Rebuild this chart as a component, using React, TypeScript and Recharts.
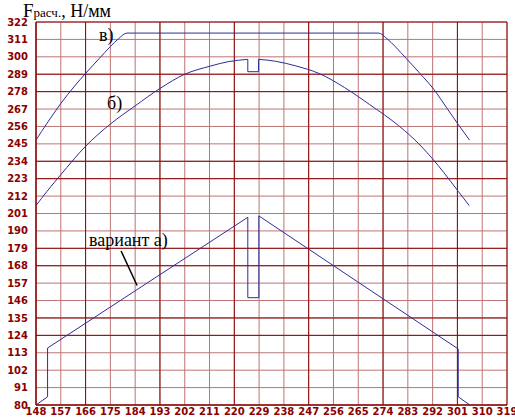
import React from 'react';
import { LineChart, Line, XAxis, YAxis, CartesianGrid, ReferenceLine } from 'recharts';

const xTicks = [148, 157, 166, 175, 184, 193, 202, 211, 220, 229, 238, 247, 256, 265, 274, 283, 292, 301, 310, 319];
const yTicks = [80, 91, 102, 113, 124, 135, 146, 157, 168, 179, 190, 201, 212, 223, 234, 245, 256, 267, 278, 289, 300, 311, 322];
const majorX = [148, 166, 193, 220, 247, 274, 301, 319];
const majorY = [80, 124, 135, 168, 179, 223, 234, 278, 289, 322];

// variant а)
const aX = [148, 152.2, 152.2, 224.9, 224.9, 228.9, 228.9, 301.3, 301.3, 305.5];
const aY = [80, 85.2, 116, 198.6, 147.8, 147.8, 199.5, 115.4, 85.2, 80];

// б)
const bLeftX = [148, 152, 157, 166, 175, 184, 193, 202, 211, 218, 224.9];
const bLeftY = [206, 215, 225.5, 243.5, 257.5, 269, 280, 289, 294, 297, 298.4];
const bNotchX = [224.9, 224.9, 228.8, 228.8];
const bNotchY = [298.4, 290.6, 290.6, 298.4];
const bRightX = [228.8, 235, 242, 251, 260, 269, 280, 287, 292, 296, 301.3, 305.3];
const bRightY = [298.4, 297.2, 294.4, 289.3, 280.6, 270, 256, 245, 235.5, 227, 215, 206];

// в)
const vX = [148, 152, 157, 162, 166, 171, 175, 178, 181, 272.4, 275.4, 278.4, 282.4, 287.4, 292.4, 297.4, 301.4, 305.4];
const vY = [247.4, 258, 270.5, 281.5, 289.5, 299, 306.5, 311.5, 315, 315, 311.5, 306.5, 299, 289.5, 279.5, 267, 257, 247.4];

// leader line for "вариант а)"
const leaderX = [178.9, 184.7];
const leaderY = [177.3, 155.5];

const toPts = (xs: number[], ys: number[]) => xs.map((x, i) => ({ x, y: ys[i] }));

const LINE = '#2d2d9b';
const AXIS_RED = '#8b0000';
const tickStyle = { fill: AXIS_RED, fontSize: 10, fontWeight: 'bold', fontFamily: 'DejaVu Sans' } as any;

export default function App() {
  return (
    <div style={{ position: 'absolute', left: 0, top: 0, width: 515, height: 417, background: '#fff', overflow: 'hidden' }}>
      <LineChart width={515} height={417} margin={{ top: 22, right: 8, bottom: 0, left: 0 }}>
        <CartesianGrid stroke="#bd7474" strokeWidth={1} />
        <CartesianGrid stroke="#8b0a0a" strokeWidth={1} horizontalValues={majorY} verticalValues={majorX} />
        <XAxis
          type="number"
          dataKey="x"
          domain={[148, 319]}
          ticks={xTicks}
          interval={0}
          height={12}
          tickLine={false}
          tickSize={0}
          axisLine={{ stroke: AXIS_RED }}
          tick={tickStyle}
          tickMargin={3}
          allowDataOverflow
        />
        <YAxis
          type="number"
          dataKey="y"
          domain={[80, 322]}
          ticks={yTicks}
          interval={0}
          width={36}
          tickLine={false}
          tickSize={0}
          axisLine={{ stroke: AXIS_RED }}
          tick={tickStyle}
          tickMargin={8}
          allowDataOverflow
        />
        <Line data={toPts(vX, vY)} dataKey="y" type="monotone" stroke={LINE} strokeWidth={1} dot={false} isAnimationActive={false} />
        <Line data={toPts(bLeftX, bLeftY)} dataKey="y" type="monotone" stroke={LINE} strokeWidth={1} dot={false} isAnimationActive={false} />
        <Line data={toPts(bNotchX, bNotchY)} dataKey="y" type="linear" stroke={LINE} strokeWidth={1} dot={false} isAnimationActive={false} />
        <Line data={toPts(bRightX, bRightY)} dataKey="y" type="monotone" stroke={LINE} strokeWidth={1} dot={false} isAnimationActive={false} />
        <Line data={toPts(aX, aY)} dataKey="y" type="linear" stroke={LINE} strokeWidth={1} dot={false} isAnimationActive={false} />
        <ReferenceLine
          segment={[{ x: leaderX[0], y: leaderY[0] }, { x: leaderX[1], y: leaderY[1] }]}
          stroke="#000"
          strokeWidth={1.5}
          ifOverflow="visible"
        />
      </LineChart>
      <svg width={515} height={417} style={{ position: 'absolute', left: 0, top: 0, pointerEvents: 'none' }}>
        <text x={23} y={17} fontFamily="Liberation Serif" fill="#000">
          <tspan fontSize={19}>F</tspan>
          <tspan fontSize={13}>расч.</tspan>
          <tspan fontSize={18}>, Н/мм</tspan>
        </text>
        <text x={99} y={41} fontFamily="Liberation Serif" fontSize={18} fill="#000">в)</text>
        <text x={107} y={109} fontFamily="Liberation Serif" fontSize={18} fill="#000">б)</text>
        <text x={89} y={246} fontFamily="Liberation Serif" fontSize={18} fill="#000">вариант а)</text>
      </svg>
    </div>
  );
}
